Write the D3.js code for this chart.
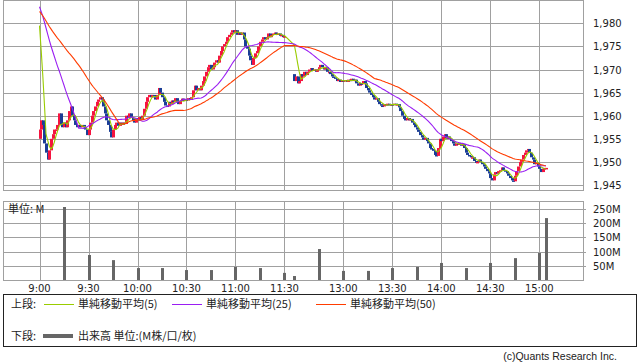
<!DOCTYPE html>
<html>
<head>
<meta charset="utf-8">
<script src="https://cdn.jsdelivr.net/npm/d3@7"></script>
<style>
body { margin: 0; background: #fff; }
text { font-family: "DejaVu Sans", sans-serif; fill: #222; }
.jp { font-family: "Noto Sans CJK JP", sans-serif; }
</style>
</head>
<body>
<script>
// previous session closes (needed so the moving averages start where the picture has them)
var prevCloses = [1981.0, 1981.5, 1982.0, 1981.5, 1980.5, 1981.0, 1981.5, 1982.5, 1982.0, 1981.5,
  1981.0, 1981.5, 1982.0, 1981.0, 1981.5, 1982.0, 1982.5, 1981.5, 1981.0, 1981.5,
  1981.5, 1982.0, 1981.5, 1981.0, 1981.5,
  1984.0, 1984.5, 1985.0, 1984.5, 1984.0, 1984.5, 1985.5, 1984.5, 1984.0, 1984.5,
  1985.0, 1984.5, 1984.0, 1984.5, 1985.0, 1985.5, 1984.5, 1984.5, 1985.0, 1984.5,
  1985.0, 1985.5, 1985.0, 1985.0];

// 1-minute closes, 9:00 - 11:30
var amOpen = 1955;
var amCloses = [1957, 1959, 1958, 1954, 1952, 1950.5, 1952.5, 1955, 1956, 1957,
  1957, 1958, 1960.5, 1958, 1957.5, 1958.5, 1957.5, 1959, 1961, 1962,
  1960, 1959, 1958, 1957.5, 1958, 1957.5, 1958, 1957.5, 1957, 1955.8,
  1957, 1958.5, 1960, 1961, 1962, 1963, 1963.5, 1964, 1963.5, 1962,
  1960.5, 1959, 1958, 1956.5, 1955.3, 1957, 1958, 1958.5, 1957.8, 1958.5,
  1958, 1958.5, 1958.2, 1960, 1959.5, 1960.5, 1959.5, 1959, 1958.5, 1959.5,
  1959, 1959.7, 1959.2, 1960, 1961.5, 1963, 1964, 1964.5, 1964, 1964.5,
  1964, 1963.5, 1964.5, 1966, 1965, 1964, 1963, 1962.2, 1962, 1963,
  1962.5, 1963.3, 1963, 1963.8, 1963, 1962.5, 1963.2, 1963.7, 1963.2, 1963.5,
  1963.3, 1963.8, 1963.4, 1964, 1965.5, 1966.5, 1965.5, 1966, 1965.5, 1966.5,
  1967.5, 1968.5, 1969.5, 1970.5, 1971, 1970, 1970.5, 1971.5, 1972, 1971.5,
  1973, 1974, 1975, 1975.5, 1976, 1977, 1977.5, 1978, 1978.5, 1978,
  1978.5, 1977.5, 1978, 1977.5, 1978, 1976.5, 1975, 1974.5, 1973, 1972,
  1971, 1972.5, 1973.5, 1974, 1975, 1976, 1976.5, 1977, 1976.5, 1977,
  1977.8, 1977, 1977.5, 1977.8, 1978, 1977.5, 1977.8, 1977.3, 1977.5, 1977, 1977.2];

// 1-minute closes, 12:30 - 15:04
var pmOpen = 1969;
var pmCloses = [1967.5, 1968.5, 1967, 1967.5, 1969, 1968.5, 1969.5, 1968.8, 1969.5, 1970,
  1970.3, 1969.7, 1970, 1969.5, 1970, 1970.5, 1971, 1970.5, 1970, 1970.5,
  1969.5, 1969.5, 1969, 1968.5, 1968.3, 1968, 1967.5, 1967.8, 1967.3, 1967.7,
  1967.5, 1967.7, 1967.3, 1967.8, 1967.5, 1968, 1967.5, 1967.8, 1967, 1966.5,
  1967, 1966.8, 1967.5, 1967, 1966, 1965.5, 1965, 1964.5, 1964, 1963.5,
  1963.8, 1963, 1962.5, 1962.2, 1962, 1962.5, 1962.3, 1962.6, 1962.2, 1962.5,
  1962.4, 1962.6, 1962.3, 1962.5, 1961.8, 1961, 1960, 1959.3, 1959, 1959.5,
  1959, 1959.3, 1958.5, 1958, 1957.5, 1957, 1956.5, 1955.8, 1955.3, 1954.8,
  1955.2, 1954.5, 1954, 1953, 1952.8, 1952.4, 1951.5, 1951.3, 1953, 1955,
  1954.5, 1955.5, 1956, 1955, 1955.5, 1955, 1954.5, 1954, 1953.5, 1954,
  1953.8, 1954, 1953.5, 1953.8, 1953, 1952, 1951.5, 1951.3, 1951, 1951,
  1950.2, 1949.8, 1950, 1950.5, 1950, 1949.5, 1949, 1948.5, 1948, 1947.5,
  1946.5, 1946, 1947.3, 1947.8, 1947.5, 1948, 1948.2, 1948.8, 1948.2, 1948,
  1947.5, 1947, 1946.5, 1946, 1945.8, 1947, 1948, 1949, 1950, 1950.5,
  1951.5, 1952, 1952.5, 1952.8, 1952, 1951, 1950.5, 1949.5, 1949.8, 1949,
  1948.5, 1947.8, 1948.5, 1948.7, 1948.7];

var priceTicks = [1945, 1950, 1955, 1960, 1965, 1970, 1975, 1980];
var timeTicks = ["9:00", "9:30", "10:00", "10:30", "11:00", "11:30", "13:00", "13:30", "14:00", "14:30", "15:00"];

// volume (M)
var volTimes = ["9:15", "9:30", "9:45", "10:00", "10:15", "10:30", "10:45", "11:00", "11:15", "11:30",
  "12:30", "12:45", "13:00", "13:15", "13:30", "13:45", "14:00", "14:15", "14:30", "14:45", "15:00", "15:04"];
var volValues = [257, 88, 70, 42, 42, 35, 35, 46, 42, 25,
  14, 109, 32, 32, 42, 46, 60, 42, 60, 77, 95, 218];
var volTicks = [50, 100, 150, 200, 250];

var maPeriods = [5, 25, 50];
var maColors = ["#99cc00", "#9a1ef2", "#ff3c00"];
var maNames = ["単純移動平均(5)", "単純移動平均(25)", "単純移動平均(50)"];

// minutes since 9:00, lunch break squeezed to a few slots
function slotOf(t) {
  var p = t.split(":");
  var m = (+p[0]) * 60 + (+p[1]) - 540;
  return m <= 150 ? m : m - 54;
}

var svg = d3.select("body").append("svg")
  .attr("width", 638)
  .attr("height", 362);

var left = 3, right = 583;
var x = d3.scaleLinear().domain([0, slotOf("15:00")]).range([39.5, 539.3]);
var y = d3.scaleLinear().domain([1945, 1980]).range([185, 23.3]);
var yv = d3.scaleLinear().domain([0, 250]).range([280, 209]);
var px = function(v) { return Math.round(v) + 0.5; };

// candles
var bars = [];
amCloses.forEach(function(c, i) {
  bars.push({slot: slotOf("9:00") + i, open: i ? amCloses[i - 1] : amOpen, close: c});
});
pmCloses.forEach(function(c, i) {
  bars.push({slot: slotOf("12:30") + i, open: i ? pmCloses[i - 1] : pmOpen, close: c});
});
var allCloses = prevCloses.concat(amCloses, pmCloses);

// grid: price panel
var grid = svg.append("g").attr("stroke", "#a0a0a0").attr("stroke-width", 1);
priceTicks.forEach(function(p) {
  grid.append("line").attr("x1", left).attr("x2", right).attr("y1", px(y(p))).attr("y2", px(y(p)));
});
volTicks.forEach(function(v) {
  grid.append("line").attr("x1", left).attr("x2", right + 3).attr("y1", px(yv(v))).attr("y2", px(yv(v)));
});
timeTicks.forEach(function(t) {
  var xx = px(x(slotOf(t)));
  grid.append("line").attr("x1", xx).attr("x2", xx).attr("y1", 0).attr("y2", 190);
  grid.append("line").attr("x1", xx).attr("x2", xx).attr("y1", 202).attr("y2", 280);
});
grid.append("rect").attr("x", left + 0.5).attr("y", 0.5).attr("width", right - left).attr("height", 190)
  .attr("fill", "none");
grid.append("rect").attr("x", left + 0.5).attr("y", 201.5).attr("width", right - left).attr("height", 79)
  .attr("fill", "none");

// candle bodies
svg.append("g").selectAll("rect").data(bars).enter().append("rect")
  .attr("x", function(d) { return Math.round(x(d.slot)) - 1; })
  .attr("width", 3)
  .attr("y", function(d) { return y(Math.max(d.open, d.close)); })
  .attr("height", function(d) { return Math.max(1.5, Math.abs(y(d.open) - y(d.close))); })
  .attr("fill", function(d) { return d.close >= d.open ? "#f5143f" : "#1a3d96"; });

// moving averages
maPeriods.forEach(function(n, k) {
  var pts = bars.map(function(d, i) {
    var idx = prevCloses.length + i;
    return [x(d.slot), y(d3.mean(allCloses.slice(idx - n + 1, idx + 1)))];
  });
  svg.append("path").datum(pts)
    .attr("d", d3.line())
    .attr("fill", "none")
    .attr("stroke", maColors[k])
    .attr("stroke-width", 1.1);
});

// volume bars
svg.append("g").selectAll("rect").data(volValues).enter().append("rect")
  .attr("x", function(d, i) { return Math.round(x(slotOf(volTimes[i]))) - 1; })
  .attr("width", 3)
  .attr("y", function(d) { return yv(d); })
  .attr("height", function(d) { return yv(0) - yv(d); })
  .attr("fill", "#666");

// labels
var fmt = d3.format(",");
priceTicks.forEach(function(p) {
  svg.append("text").attr("x", 593).attr("y", y(p) + 4).attr("font-size", 10).text(fmt(p));
});
volTicks.forEach(function(v) {
  svg.append("text").attr("x", 593).attr("y", yv(v) + 4).attr("font-size", 10).text(v + "M");
});
timeTicks.forEach(function(t) {
  svg.append("text").attr("x", x(slotOf(t))).attr("y", 292).attr("font-size", 10)
    .attr("text-anchor", "middle").text(t);
});
svg.append("text").attr("class", "jp").attr("x", 8).attr("y", 213).attr("font-size", 11).text("単位: M");

// legend
svg.append("rect").attr("x", 3.5).attr("y", 294.5).attr("width", 633).attr("height", 52)
  .attr("fill", "none").attr("stroke", "#222");
svg.append("text").attr("class", "jp").attr("x", 11).attr("y", 308).attr("font-size", 11).text("上段:");
var legX = [44, 172, 316];
maNames.forEach(function(name, k) {
  svg.append("line").attr("x1", legX[k]).attr("x2", legX[k] + 30).attr("y1", 304.5).attr("y2", 304.5)
    .attr("stroke", maColors[k]);
  svg.append("text").attr("class", "jp").attr("x", legX[k] + 34).attr("y", 308).attr("font-size", 11).text(name);
});
svg.append("text").attr("class", "jp").attr("x", 11).attr("y", 340).attr("font-size", 11).text("下段:");
svg.append("line").attr("x1", 43).attr("x2", 73).attr("y1", 336).attr("y2", 336)
  .attr("stroke", "#666").attr("stroke-width", 4);
svg.append("text").attr("class", "jp").attr("x", 78).attr("y", 340).attr("font-size", 11).text("出来高 単位:(M株/口/枚)");

svg.append("text").attr("x", 617).attr("y", 360).attr("font-size", 10.5).attr("text-anchor", "end")
  .style("font-family", "Liberation Sans").attr("fill", "#444").text("(c)Quants Research Inc.");
</script>
</body>
</html>
